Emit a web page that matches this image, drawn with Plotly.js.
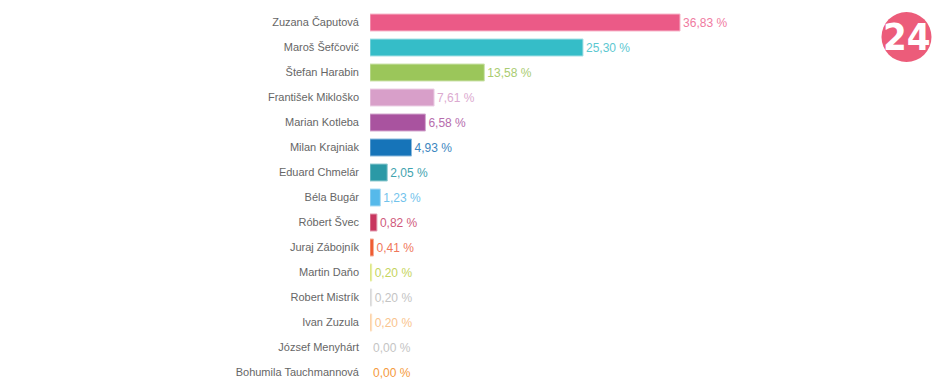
<!DOCTYPE html>
<html>
<head>
<meta charset="utf-8">
<script src="https://cdn.plot.ly/plotly-3.0.1.min.js"></script>
<style>html,body{margin:0;padding:0;background:#fff;}#chart{width:950px;height:386px;}</style>
</head>
<body>
<div id="chart"></div>
<script>
const candidates = ["Zuzana Čaputová","Maroš Šefčovič","Štefan Harabin","František Mikloško","Marian Kotleba","Milan Krajniak","Eduard Chmelár","Béla Bugár","Róbert Švec","Juraj Zábojník","Martin Daňo","Robert Mistrík","Ivan Zuzula","József Menyhárt","Bohumila Tauchmannová"];
const percents = [36.83,25.30,13.58,7.61,6.58,4.93,2.05,1.23,0.82,0.41,0.20,0.20,0.20,0.00,0.00];
const barColors = ["#eb5a87","#35bdc8","#9bc65a","#d89fc9","#a9539f","#1674b9","#2b99a6","#56b9ea","#c8365f","#ee5b30","#d2df5a","#cccccc","#fbc48c","#bdbdbd","#f59a3c"];
const textColors = ["#f07b9f","#5cc8d1","#a9cc71","#dcaad0","#b66cad","#3c86c0","#3fa3af","#72c3ec","#d05a7c","#f0775a","#c5d45d","#c4c4c4","#f9c48e","#c4c4c4","#f59a3c"];
const lineColors = ["#f7b9cc","#a6e0e5","#cde3ad","#ecd0e5","#d4a9cf","#8bb9dc","#94ccd2","#abdcf4","#e39bb0","#f6ad98","#e8efad","#e5e5e5","#fde2c6","#dddddd","#fbcc9e"];
const labels = percents.map(v => v.toFixed(2).replace(".", ",") + " %");

const trace = {
  type: "bar",
  orientation: "h",
  y: candidates,
  x: percents,
  width: 0.68,
  marker: {color: barColors, line: {color: lineColors, width: percents.map(v => v > 0 ? 1 : 0)}},
  text: labels,
  textposition: "outside",
  cliponaxis: false,
  textfont: {family: "Liberation Sans, Arial, sans-serif", size: 12, color: textColors},
  hoverinfo: "none"
};

const layout = {
  width: 950, height: 386,
  margin: {l: 370, r: 0, t: 10, b: 1},
  paper_bgcolor: "#fff", plot_bgcolor: "#fff",
  showlegend: false,
  xaxis: {range: [0, 68.9], visible: false, fixedrange: true},
  yaxis: {autorange: "reversed", showgrid: false, showline: false, zeroline: false, ticks: "",
          ticklabelstandoff: 10,
          tickfont: {family: "Liberation Sans, Arial, sans-serif", size: 11, color: "#666666"}},
  shapes: [{type: "circle", xref: "paper", yref: "paper", xsizemode: "pixel", ysizemode: "pixel",
            xanchor: 0.925, yanchor: 1.0,
            x0: -25, x1: 25, y0: -2, y1: -52, fillcolor: "#ec5c7a", line: {width: 0}}],
  annotations: [{xref: "paper", yref: "paper", x: 0.925, y: 1.0, yshift: -27, xanchor: "center", yanchor: "middle",
                 text: "<b>24</b>", showarrow: false,
                 font: {family: "Liberation Sans Narrow, DejaVu Sans Condensed, sans-serif", size: 38, color: "#ffffff"}}]
};
Plotly.newPlot("chart", [trace], layout, {displayModeBar: false, staticPlot: true});
</script>
</body>
</html>
